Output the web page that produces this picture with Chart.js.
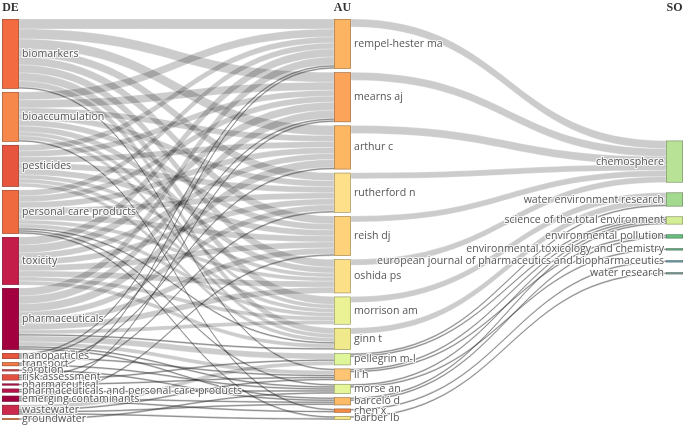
<!DOCTYPE html>
<html>
<head>
<meta charset="utf-8">
<script src="https://cdn.jsdelivr.net/npm/chart.js@4.4.1/dist/chart.umd.min.js"></script>
<style>
  html, body { margin: 0; padding: 0; background: #fff; }
  #wrap { width: 685px; height: 425px; }
</style>
</head>
<body>
<div id="wrap"><canvas id="myChart" width="685" height="425"></canvas></div>
<script>
const columnTitles = ["DE", "AU", "SO"];

const keywords = [
  "biomarkers", "bioaccumulation", "pesticides", "personal care products",
  "toxicity", "pharmaceuticals", "nanoparticles", "transport", "sorption",
  "risk assessment", "pharmaceutical", "pharmaceuticals and personal care products",
  "emerging contaminants", "wastewater", "groundwater"
];
const keywordColors = [
  "#f26b41", "#f7884c", "#e8553f", "#f06a40", "#c41d4a", "#a3003f", "#e8553f",
  "#f37845", "#d6404a", "#e4503f", "#b30f45", "#b8124a", "#a3003f", "#cc2a4c", "#f28a4a"
];

const authors = [
  "rempel-hester ma", "mearns aj", "arthur c", "rutherford n", "reish dj",
  "oshida ps", "morrison am", "ginn t", "pellegrin m-l", "li h", "morse an",
  "barceló d", "chen x", "barber lb"
];
const authorColors = [
  "#fdb462", "#fca55a", "#fdb662", "#fee08b", "#fdd27a", "#fbe088", "#eaf295",
  "#f0ea8c", "#def59a", "#fdc473", "#e4f59a", "#fdba67", "#f58a45", "#f3e68a"
];

const sources = [
  "chemosphere", "water environment research", "science of the total environment",
  "environmental pollution", "environmental toxicology and chemistry",
  "european journal of pharmaceutics and biopharmaceutics", "water research"
];
const sourceColors = ["#b8e296", "#a4d990", "#d3ee94", "#66bd7e", "#5eae7e", "#6a9fb0", "#7da39a"];

// keyword -> author (rows follow keywords, columns follow authors)
const keywordAuthor = [
  [5, 5, 5, 4, 4, 4, 4, 3, 0, 1, 0, 0, 0, 0],
  [4, 4, 3, 3, 3, 3, 2, 2, 0, 0, 0, 0, 1, 0],
  [3, 3, 3, 3, 3, 2, 2, 2, 0, 0, 0, 0, 0, 0],
  [3, 3, 3, 3, 3, 2, 2, 1, 0, 0, 1, 0, 0, 1],
  [4, 4, 3, 3, 3, 3, 2, 2, 0, 0, 0, 0, 0, 0],
  [4, 4, 4, 3, 3, 3, 2, 1, 3, 2, 1, 1, 0, 0],
  [1, 1, 0, 0, 0, 0, 0, 0, 0, 1, 0, 0, 0, 0],
  [0, 0, 1, 0, 0, 0, 0, 0, 0, 0, 1, 0, 0, 0],
  [0, 0, 0, 0, 0, 0, 0, 0, 0, 0, 0, 1, 0, 0],
  [1, 0, 0, 1, 0, 0, 0, 0, 1, 0, 0, 0, 0, 0],
  [0, 0, 0, 0, 0, 0, 0, 0, 0, 1, 0, 0, 0, 0],
  [0, 1, 0, 0, 0, 0, 0, 0, 0, 0, 1, 0, 0, 0],
  [0, 0, 0, 0, 1, 0, 0, 0, 0, 0, 0, 1, 1, 0],
  [0, 0, 0, 0, 0, 0, 0, 0, 2, 1, 0, 1, 0, 1],
  [0, 0, 0, 0, 0, 0, 0, 0, 0, 0, 1, 0, 0, 0]
];

// author -> source (rows follow authors, columns follow sources)
const authorSource = [
  [4, 0, 0, 0, 0, 0, 0],
  [4, 0, 0, 0, 0, 0, 0],
  [4, 0, 0, 0, 0, 0, 0],
  [3, 0, 0, 0, 0, 0, 0],
  [3, 0, 0, 0, 0, 0, 0],
  [3, 0, 0, 0, 0, 0, 0],
  [0, 3, 0, 0, 0, 0, 0],
  [0, 3, 0, 0, 0, 0, 0],
  [0, 1, 1, 0, 0, 0, 0],
  [0, 0, 1, 1, 0, 0, 0],
  [0, 0, 1, 0, 1, 0, 0],
  [0, 0, 1, 1, 0, 0, 0],
  [0, 0, 0, 0, 0, 1, 0],
  [0, 0, 0, 0, 0, 0, 1]
];

const Y_MAX = 201;
const NODE_W = 17;

const rowSums = m => m.map(r => r.reduce((a, b) => a + b, 0));
const colSums = m => m[0].map((_, j) => m.reduce((a, r) => a + r[j], 0));
const sum = a => a.reduce((x, y) => x + y, 0);

const stack = (values, gap, top) => {
  let y = top;
  return values.map(v => {
    const n = { y0: y, y1: y + v };
    y += v + gap;
    return n;
  });
};

const deValues = rowSums(keywordAuthor);
const auIn = colSums(keywordAuthor);
const auOut = rowSums(authorSource);
const auValues = auIn.map((v, i) => Math.max(v, auOut[i]));
const soValues = colSums(authorSource);

const deNodes = stack(deValues, (Y_MAX - sum(deValues)) / (deValues.length - 1), 0);
const auNodes = stack(auValues, (Y_MAX - sum(auValues)) / (auValues.length - 1), 0);
const soGap = 5;
const soHeight = sum(soValues) + soGap * (soValues.length - 1);
const soNodes = stack(soValues, soGap, Y_MAX * 0.47 - soHeight / 2);

// link offsets: at the source ordered by target, at the target ordered by source
const buildLinks = (m, srcNodes, tgtNodes) => {
  const links = [];
  const srcOff = srcNodes.map(n => n.y0);
  m.forEach((row, i) => row.forEach((v, j) => {
    if (v > 0) { links.push({ i, j, v, s0: srcOff[i], s1: srcOff[i] + v }); srcOff[i] += v; }
  }));
  const tgtOff = tgtNodes.map(n => n.y0);
  links.slice().sort((a, b) => a.j - b.j || a.i - b.i).forEach(l => {
    l.t0 = tgtOff[l.j]; l.t1 = tgtOff[l.j] + l.v; tgtOff[l.j] += l.v;
  });
  return links;
};

const links1 = buildLinks(keywordAuthor, deNodes, auNodes);
const links2 = buildLinks(authorSource, auNodes, soNodes);

const band = (ctx, x0, x1, s0, s1, t0, t1) => {
  const xm = (x0 + x1) / 2;
  ctx.beginPath();
  ctx.moveTo(x0, s0);
  ctx.bezierCurveTo(xm, s0, xm, t0, x1, t0);
  ctx.lineTo(x1, t1);
  ctx.bezierCurveTo(xm, t1, xm, s1, x0, s1);
  ctx.closePath();
};

const label = (ctx, text, x, y, align) => {
  ctx.textAlign = align;
  ctx.textBaseline = "middle";
  ctx.lineJoin = "round";
  ctx.strokeStyle = "rgba(255,255,255,0.85)";
  ctx.lineWidth = 2.2;
  ctx.strokeText(text, x, y);
  ctx.fillStyle = "#555";
  ctx.fillText(text, x, y);
};

const sankeyPlugin = {
  id: "sankey",
  afterDraw(chart) {
    const ctx = chart.ctx;
    const x = chart.scales.x, y = chart.scales.y;
    const py = v => y.getPixelForValue(v);
    const colLeft = [0, 1, 2].map(c => x.getPixelForValue(c));

    ctx.save();
    const drawLinks = (links, c) => {
      const x0 = colLeft[c] + NODE_W, x1 = colLeft[c + 1];
      links.forEach(l => {
        band(ctx, x0, x1, py(l.s0), py(l.s1), py(l.t0), py(l.t1));
        ctx.fillStyle = "rgba(0,0,0,0.2)";
        ctx.fill();
        if (l.v <= 1) {
          const xm = (x0 + x1) / 2;
          const sm = py((l.s0 + l.s1) / 2), tm = py((l.t0 + l.t1) / 2);
          ctx.beginPath();
          ctx.moveTo(x0, sm);
          ctx.bezierCurveTo(xm, sm, xm, tm, x1, tm);
          ctx.strokeStyle = "rgba(60,60,60,0.55)";
          ctx.lineWidth = 0.8;
          ctx.stroke();
        } else {
          ctx.strokeStyle = "rgba(255,255,255,0.5)";
          ctx.lineWidth = 0.5;
          ctx.stroke();
        }
      });
    };
    drawLinks(links1, 0);
    drawLinks(links2, 1);

    const columns = [
      { nodes: deNodes, names: keywords, colors: keywordColors },
      { nodes: auNodes, names: authors, colors: authorColors },
      { nodes: soNodes, names: sources, colors: sourceColors }
    ];
    columns.forEach((col, c) => {
      col.nodes.forEach((n, k) => {
        const top = py(n.y0), h = py(n.y1) - top;
        ctx.fillStyle = col.colors[k];
        ctx.fillRect(colLeft[c], top, NODE_W, h);
        ctx.strokeStyle = "rgba(68,68,68,0.55)";
        ctx.lineWidth = 0.6;
        ctx.strokeRect(colLeft[c] + 0.3, top + 0.3, NODE_W - 0.6, Math.max(h - 0.6, 0.4));
      });
    });

    ctx.font = "10.6px 'Open Sans'";
    columns.forEach((col, c) => {
      col.nodes.forEach((n, k) => {
        const mid = py((n.y0 + n.y1) / 2);
        if (c < 2) label(ctx, col.names[k], colLeft[c] + NODE_W + 3, mid, "left");
        else label(ctx, col.names[k], colLeft[c] - 2, mid, "right");
      });
    });

    ctx.font = "bold 12px 'Liberation Serif'";
    ctx.fillStyle = "#333";
    ctx.textAlign = "center";
    ctx.textBaseline = "middle";
    columnTitles.forEach((t, c) => ctx.fillText(t, colLeft[c] + NODE_W / 2, chart.chartArea.top - 11));
    ctx.restore();
  }
};

const config = {
  type: "scatter",
  data: { datasets: [{ data: [] }] },
  options: {
    responsive: false,
    animation: false,
    devicePixelRatio: 1,
    layout: { padding: { left: 2, right: 2 + NODE_W, top: 19, bottom: 5 } },
    plugins: { legend: { display: false }, tooltip: { enabled: false } },
    scales: {
      x: { type: "linear", min: 0, max: 2, display: false },
      y: { type: "linear", min: 0, max: Y_MAX, reverse: true, display: false }
    }
  },
  plugins: [sankeyPlugin]
};

const myChart = new Chart(document.getElementById("myChart"), config);
</script>
</body>
</html>
